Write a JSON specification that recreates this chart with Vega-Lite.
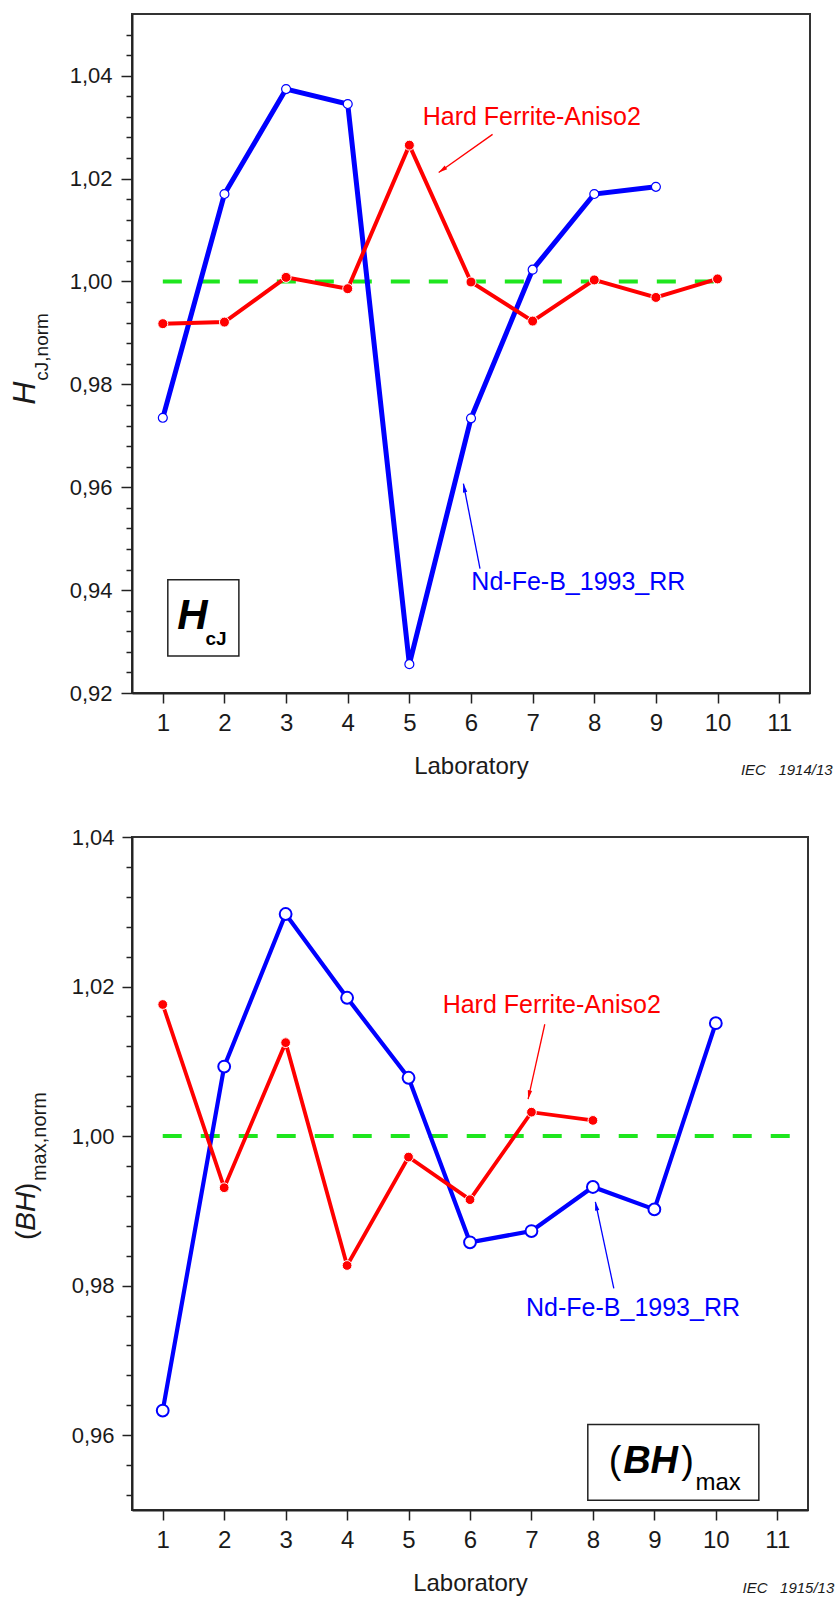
{
  "$schema": "https://vega.github.io/schema/vega-lite/v6.json",
  "padding": {"left": 8, "top": 13, "right": 0, "bottom": 0},
  "spacing": 45,
  "config": {
    "font": "Liberation Sans",
    "view": {"stroke": "#333333", "strokeWidth": 2},
    "axis": {
      "domainColor": "#222222", "domainWidth": 2, "tickColor": "#222222", "tickWidth": 1.5,
      "labelFont": "Liberation Sans", "labelFontSize": 22, "labelColor": "#1a1a1a",
      "titleFont": "Liberation Sans", "titleFontSize": 24, "titleFontWeight": "normal", "titleColor": "#1a1a1a",
      "grid": false, "labelFlush": false
    }
  },
  "datasets": {
    "hcj": [
      {"series": "Nd-Fe-B_1993_RR", "lab": 1, "value": 0.9735},
      {"series": "Nd-Fe-B_1993_RR", "lab": 2, "value": 1.017},
      {"series": "Nd-Fe-B_1993_RR", "lab": 3, "value": 1.0374},
      {"series": "Nd-Fe-B_1993_RR", "lab": 4, "value": 1.0345},
      {"series": "Nd-Fe-B_1993_RR", "lab": 5, "value": 0.9256},
      {"series": "Nd-Fe-B_1993_RR", "lab": 6, "value": 0.9734},
      {"series": "Nd-Fe-B_1993_RR", "lab": 7, "value": 1.0023},
      {"series": "Nd-Fe-B_1993_RR", "lab": 8, "value": 1.017},
      {"series": "Nd-Fe-B_1993_RR", "lab": 9, "value": 1.0184},
      {"series": "Hard Ferrite-Aniso2", "lab": 1, "value": 0.9918},
      {"series": "Hard Ferrite-Aniso2", "lab": 2, "value": 0.9921},
      {"series": "Hard Ferrite-Aniso2", "lab": 3, "value": 1.0008},
      {"series": "Hard Ferrite-Aniso2", "lab": 4, "value": 0.9986},
      {"series": "Hard Ferrite-Aniso2", "lab": 5, "value": 1.0265},
      {"series": "Hard Ferrite-Aniso2", "lab": 6, "value": 0.9999},
      {"series": "Hard Ferrite-Aniso2", "lab": 7, "value": 0.9923},
      {"series": "Hard Ferrite-Aniso2", "lab": 8, "value": 1.0003},
      {"series": "Hard Ferrite-Aniso2", "lab": 9, "value": 0.9969},
      {"series": "Hard Ferrite-Aniso2", "lab": 10, "value": 1.0005}
    ],
    "bh": [
      {"series": "Nd-Fe-B_1993_RR", "lab": 1, "value": 0.9633},
      {"series": "Nd-Fe-B_1993_RR", "lab": 2, "value": 1.0093},
      {"series": "Nd-Fe-B_1993_RR", "lab": 3, "value": 1.0297},
      {"series": "Nd-Fe-B_1993_RR", "lab": 4, "value": 1.0185},
      {"series": "Nd-Fe-B_1993_RR", "lab": 5, "value": 1.0078},
      {"series": "Nd-Fe-B_1993_RR", "lab": 6, "value": 0.9858},
      {"series": "Nd-Fe-B_1993_RR", "lab": 7, "value": 0.9873},
      {"series": "Nd-Fe-B_1993_RR", "lab": 8, "value": 0.9932},
      {"series": "Nd-Fe-B_1993_RR", "lab": 9, "value": 0.9902},
      {"series": "Nd-Fe-B_1993_RR", "lab": 10, "value": 1.0151},
      {"series": "Hard Ferrite-Aniso2", "lab": 1, "value": 1.0176},
      {"series": "Hard Ferrite-Aniso2", "lab": 2, "value": 0.9931},
      {"series": "Hard Ferrite-Aniso2", "lab": 3, "value": 1.0125},
      {"series": "Hard Ferrite-Aniso2", "lab": 4, "value": 0.9827},
      {"series": "Hard Ferrite-Aniso2", "lab": 5, "value": 0.9972},
      {"series": "Hard Ferrite-Aniso2", "lab": 6, "value": 0.9915},
      {"series": "Hard Ferrite-Aniso2", "lab": 7, "value": 1.0032},
      {"series": "Hard Ferrite-Aniso2", "lab": 8, "value": 1.0021}
    ],
    "hcj_ref": [{"lab": 1, "lab2": 10, "value": 1}],
    "bh_ref": [{"lab": 1, "lab2": 11.5, "value": 1}],
    "hcj_arrows": [
      {"series": "Hard Ferrite-Aniso2", "lab": 6.35, "value": 1.0286, "lab2": 5.476, "value2": 1.0212},
      {"series": "Nd-Fe-B_1993_RR", "lab": 6.146, "value": 0.9442, "lab2": 5.877, "value2": 0.9607}
    ],
    "hcj_heads": [
      {"series": "Hard Ferrite-Aniso2", "lab": 5.476, "value": 1.0212},
      {"series": "Nd-Fe-B_1993_RR", "lab": 5.877, "value": 0.9607}
    ],
    "bh_arrows": [
      {"series": "Hard Ferrite-Aniso2", "lab": 7.217, "value": 1.01496, "lab2": 6.945, "value2": 1.00494},
      {"series": "Nd-Fe-B_1993_RR", "lab": 8.34, "value": 0.97965, "lab2": 8.04, "value2": 0.99122}
    ],
    "bh_heads": [
      {"series": "Hard Ferrite-Aniso2", "lab": 6.945, "value": 1.00494},
      {"series": "Nd-Fe-B_1993_RR", "lab": 8.04, "value": 0.99122}
    ],
    "hcj_labels": [
      {"series": "Hard Ferrite-Aniso2", "lab": 5.216, "value": 1.0319},
      {"series": "Nd-Fe-B_1993_RR", "lab": 6.006, "value": 0.9416}
    ],
    "bh_labels": [
      {"series": "Hard Ferrite-Aniso2", "lab": 5.555, "value": 1.0175},
      {"series": "Nd-Fe-B_1993_RR", "lab": 6.912, "value": 0.97698}
    ],
    "hcj_box": [{"lab": 1.081, "lab2": 2.234, "value": 0.94203, "value2": 0.92717}],
    "hcj_box_main": [{"lab": 1.234, "value": 0.93248, "label": "H"}],
    "hcj_box_sub": [{"lab": 1.693, "value": 0.92937, "label": "cJ"}],
    "hcj_title_main": [{"lab": -1.0666, "value": 0.97605, "label": "H"}],
    "hcj_title_sub": [{"lab": -0.855, "value": 0.98072, "label": "cJ,norm"}],
    "hcj_iec": [{"lab": 11.867, "value": 0.90399, "label": "IEC\u00a0\u00a0\u00a01914/13"}],
    "bh_box": [{"lab": 7.917, "lab2": 10.7, "value": 0.96143, "value2": 0.95132}],
    "bh_box_paren": [{"lab": 8.259, "value": 0.95494, "label": "("}, {"lab": 9.436, "value": 0.95494, "label": ")"}],
    "bh_box_main": [{"lab": 8.492, "value": 0.95494, "label": "BH"}],
    "bh_box_sub": [{"lab": 9.669, "value": 0.95271, "label": "max"}],
    "bh_title_paren": [{"lab": -1.0847, "value": 0.98611, "label": "("}, {"lab": -1.0847, "value": 0.99254, "label": ")"}],
    "bh_title_main": [{"lab": -1.0847, "value": 0.98735, "label": "BH"}],
    "bh_title_sub": [{"lab": -0.9055, "value": 0.99399, "label": "max,norm"}],
    "bh_iec": [{"lab": 11.928, "value": 0.9389, "label": "IEC\u00a0\u00a0\u00a01915/13"}]
  },
  "vconcat": [
    {
      "width": 678,
      "height": 679,
      "encoding": {
        "x": {"field": "lab", "type": "quantitative", "scale": {"domain": [0.5, 11.5], "nice": false, "zero": false},
              "axis": {"values": [1, 2, 3, 4, 5, 6, 7, 8, 9, 10, 11], "format": "d", "title": "Laboratory", "tickSize": 10, "labelPadding": 8, "labelFontSize": 24, "titlePadding": 19}},
        "y": {"field": "value", "type": "quantitative", "scale": {"domain": [0.92, 1.052], "nice": false, "zero": false}, "axis": null}
      },
      "layer": [
        {
          "data": {"name": "hcj_ref"},
          "mark": {"type": "rule", "color": "#1ee61e", "strokeWidth": 4, "strokeDash": [19, 19]},
          "encoding": {
            "x2": {"field": "lab2"},
            "y": {"field": "value", "type": "quantitative", "scale": {"domain": [0.92, 1.052], "nice": false, "zero": false},
                  "axis": {"orient": "left", "values": [0.924, 0.928, 0.932, 0.936, 0.944, 0.948, 0.952, 0.956, 0.964, 0.968, 0.972, 0.976, 0.984, 0.988, 0.992, 0.996, 1.004, 1.008, 1.012, 1.016, 1.024, 1.028, 1.032, 1.036, 1.044, 1.048], "labels": false, "domain": false, "tickSize": 6, "title": null}}
          }
        },
        {
          "data": {"name": "hcj"},
          "transform": [{"filter": "datum.series === 'Nd-Fe-B_1993_RR'"}],
          "mark": {"type": "line", "color": "#0000ff", "strokeWidth": 5},
          "encoding": {
            "y": {"field": "value", "type": "quantitative", "scale": {"domain": [0.92, 1.052], "nice": false, "zero": false},
                  "axis": {"orient": "left", "values": [0.92, 0.94, 0.96, 0.98, 1.0, 1.02, 1.04], "labelExpr": "replace(format(datum.value, '.2f'), '.', ',')", "tickSize": 11, "labelPadding": 9, "title": null}}
          }
        },
        {
          "data": {"name": "hcj"},
          "transform": [{"filter": "datum.series === 'Hard Ferrite-Aniso2'"}],
          "mark": {"type": "line", "color": "#ff0000", "strokeWidth": 4},
          "encoding": {}
        },
        {
          "data": {"name": "hcj"},
          "transform": [{"filter": "datum.series === 'Nd-Fe-B_1993_RR'"}],
          "mark": {"type": "point", "shape": "circle", "filled": true, "fill": "#ffffff", "stroke": "#0000ff", "strokeWidth": 1.2, "size": 80, "opacity": 1},
          "encoding": {}
        },
        {
          "data": {"name": "hcj"},
          "transform": [{"filter": "datum.series === 'Hard Ferrite-Aniso2'"}],
          "mark": {"type": "point", "shape": "circle", "filled": true, "fill": "#ff0000", "stroke": "#ffffff", "strokeWidth": 1, "size": 100, "opacity": 1},
          "encoding": {}
        },
        {
          "data": {"name": "hcj_arrows"},
          "mark": {"type": "rule", "strokeWidth": 1.3},
          "encoding": {
            "x2": {"field": "lab2"},
            "y2": {"field": "value2"},
            "color": {"field": "series", "type": "nominal", "scale": {"domain": ["Hard Ferrite-Aniso2", "Nd-Fe-B_1993_RR"], "range": ["#ff0000", "#0000ff"]}, "legend": null}
          }
        },
        {
          "data": {"name": "hcj_heads"},
          "transform": [{"filter": "datum.series === 'Hard Ferrite-Aniso2'"}],
          "mark": {"type": "point", "shape": "M0,0L-0.55,2.2L0.55,2.2Z", "filled": true, "color": "#ff0000", "size": 64, "angle": 235, "opacity": 1},
          "encoding": {}
        },
        {
          "data": {"name": "hcj_heads"},
          "transform": [{"filter": "datum.series === 'Nd-Fe-B_1993_RR'"}],
          "mark": {"type": "point", "shape": "M0,0L-0.55,2.2L0.55,2.2Z", "filled": true, "color": "#0000ff", "size": 64, "angle": 349, "opacity": 1},
          "encoding": {}
        },
        {
          "data": {"name": "hcj_labels"},
          "mark": {"type": "text", "fontSize": 25, "align": "left", "baseline": "middle", "font": "Liberation Sans"},
          "encoding": {
            "text": {"field": "series"},
            "color": {"field": "series", "type": "nominal", "scale": {"domain": ["Hard Ferrite-Aniso2", "Nd-Fe-B_1993_RR"], "range": ["#ff0000", "#0000ff"]}, "legend": null}
          }
        },
        {
          "data": {"name": "hcj_box"},
          "mark": {"type": "rect", "fill": "#ffffff", "stroke": "#222222", "strokeWidth": 1.5},
          "encoding": {"x2": {"field": "lab2"}, "y2": {"field": "value2"}}
        },
        {
          "data": {"name": "hcj_box_main"},
          "mark": {"type": "text", "fontSize": 42, "fontWeight": "bold", "fontStyle": "italic", "align": "left", "baseline": "alphabetic", "color": "#000000"},
          "encoding": {"text": {"field": "label"}}
        },
        {
          "data": {"name": "hcj_box_sub"},
          "mark": {"type": "text", "fontSize": 19, "fontWeight": "bold", "align": "left", "baseline": "alphabetic", "color": "#000000"},
          "encoding": {"text": {"field": "label"}}
        },
        {
          "data": {"name": "hcj_title_main"},
          "mark": {"type": "text", "fontSize": 32, "fontStyle": "italic", "angle": 270, "align": "left", "baseline": "alphabetic", "color": "#1a1a1a"},
          "encoding": {"text": {"field": "label"}}
        },
        {
          "data": {"name": "hcj_title_sub"},
          "mark": {"type": "text", "fontSize": 19, "angle": 270, "align": "left", "baseline": "alphabetic", "color": "#1a1a1a"},
          "encoding": {"text": {"field": "label"}}
        },
        {
          "data": {"name": "hcj_iec"},
          "mark": {"type": "text", "fontSize": 15, "fontStyle": "italic", "align": "right", "baseline": "alphabetic", "color": "#1a1a1a"},
          "encoding": {"text": {"field": "label"}}
        }
      ],
      "resolve": {"axis": {"y": "independent"}}
    },
    {
      "width": 676,
      "height": 673,
      "encoding": {
        "x": {"field": "lab", "type": "quantitative", "scale": {"domain": [0.5, 11.5], "nice": false, "zero": false},
              "axis": {"values": [1, 2, 3, 4, 5, 6, 7, 8, 9, 10, 11], "format": "d", "title": "Laboratory", "tickSize": 10, "labelPadding": 8, "labelFontSize": 24, "titlePadding": 19}},
        "y": {"field": "value", "type": "quantitative", "scale": {"domain": [0.95, 1.04], "nice": false, "zero": false}, "axis": null}
      },
      "layer": [
        {
          "data": {"name": "bh_ref"},
          "mark": {"type": "rule", "color": "#1ee61e", "strokeWidth": 4, "strokeDash": [19, 19]},
          "encoding": {
            "x2": {"field": "lab2"},
            "y": {"field": "value", "type": "quantitative", "scale": {"domain": [0.95, 1.04], "nice": false, "zero": false},
                  "axis": {"orient": "left", "values": [0.952, 0.956, 0.964, 0.968, 0.972, 0.976, 0.984, 0.988, 0.992, 0.996, 1.004, 1.008, 1.012, 1.016, 1.024, 1.028, 1.032, 1.036], "labels": false, "domain": false, "tickSize": 6, "title": null}}
          }
        },
        {
          "data": {"name": "bh"},
          "transform": [{"filter": "datum.series === 'Nd-Fe-B_1993_RR'"}],
          "mark": {"type": "line", "color": "#0000ff", "strokeWidth": 4.2},
          "encoding": {
            "y": {"field": "value", "type": "quantitative", "scale": {"domain": [0.95, 1.04], "nice": false, "zero": false},
                  "axis": {"orient": "left", "values": [0.96, 0.98, 1.0, 1.02, 1.04], "labelExpr": "replace(format(datum.value, '.2f'), '.', ',')", "tickSize": 10, "labelPadding": 8, "title": null}}
          }
        },
        {
          "data": {"name": "bh"},
          "transform": [{"filter": "datum.series === 'Hard Ferrite-Aniso2'"}],
          "mark": {"type": "line", "color": "#ff0000", "strokeWidth": 3.8},
          "encoding": {}
        },
        {
          "data": {"name": "bh"},
          "transform": [{"filter": "datum.series === 'Nd-Fe-B_1993_RR'"}],
          "mark": {"type": "point", "shape": "circle", "filled": true, "fill": "#ffffff", "stroke": "#0000ff", "strokeWidth": 2, "size": 140, "opacity": 1},
          "encoding": {}
        },
        {
          "data": {"name": "bh"},
          "transform": [{"filter": "datum.series === 'Hard Ferrite-Aniso2'"}],
          "mark": {"type": "point", "shape": "circle", "filled": true, "fill": "#ff0000", "stroke": "#ffffff", "strokeWidth": 1, "size": 95, "opacity": 1},
          "encoding": {}
        },
        {
          "data": {"name": "bh_arrows"},
          "mark": {"type": "rule", "strokeWidth": 1.3},
          "encoding": {
            "x2": {"field": "lab2"},
            "y2": {"field": "value2"},
            "color": {"field": "series", "type": "nominal", "scale": {"domain": ["Hard Ferrite-Aniso2", "Nd-Fe-B_1993_RR"], "range": ["#ff0000", "#0000ff"]}, "legend": null}
          }
        },
        {
          "data": {"name": "bh_heads"},
          "transform": [{"filter": "datum.series === 'Hard Ferrite-Aniso2'"}],
          "mark": {"type": "point", "shape": "M0,0L-0.55,2.2L0.55,2.2Z", "filled": true, "color": "#ff0000", "size": 64, "angle": 192.6, "opacity": 1},
          "encoding": {}
        },
        {
          "data": {"name": "bh_heads"},
          "transform": [{"filter": "datum.series === 'Nd-Fe-B_1993_RR'"}],
          "mark": {"type": "point", "shape": "M0,0L-0.55,2.2L0.55,2.2Z", "filled": true, "color": "#0000ff", "size": 64, "angle": 348, "opacity": 1},
          "encoding": {}
        },
        {
          "data": {"name": "bh_labels"},
          "mark": {"type": "text", "fontSize": 25, "align": "left", "baseline": "middle", "font": "Liberation Sans"},
          "encoding": {
            "text": {"field": "series"},
            "color": {"field": "series", "type": "nominal", "scale": {"domain": ["Hard Ferrite-Aniso2", "Nd-Fe-B_1993_RR"], "range": ["#ff0000", "#0000ff"]}, "legend": null}
          }
        },
        {
          "data": {"name": "bh_box"},
          "mark": {"type": "rect", "fill": "#ffffff", "stroke": "#222222", "strokeWidth": 1.5},
          "encoding": {"x2": {"field": "lab2"}, "y2": {"field": "value2"}}
        },
        {
          "data": {"name": "bh_box_paren"},
          "mark": {"type": "text", "fontSize": 38, "align": "left", "baseline": "alphabetic", "color": "#000000"},
          "encoding": {"text": {"field": "label"}}
        },
        {
          "data": {"name": "bh_box_main"},
          "mark": {"type": "text", "fontSize": 38, "fontWeight": "bold", "fontStyle": "italic", "align": "left", "baseline": "alphabetic", "color": "#000000"},
          "encoding": {"text": {"field": "label"}}
        },
        {
          "data": {"name": "bh_box_sub"},
          "mark": {"type": "text", "fontSize": 24, "align": "left", "baseline": "alphabetic", "color": "#000000"},
          "encoding": {"text": {"field": "label"}}
        },
        {
          "data": {"name": "bh_title_paren"},
          "mark": {"type": "text", "fontSize": 28, "angle": 270, "align": "left", "baseline": "alphabetic", "color": "#1a1a1a"},
          "encoding": {"text": {"field": "label"}}
        },
        {
          "data": {"name": "bh_title_main"},
          "mark": {"type": "text", "fontSize": 28, "fontStyle": "italic", "angle": 270, "align": "left", "baseline": "alphabetic", "color": "#1a1a1a"},
          "encoding": {"text": {"field": "label"}}
        },
        {
          "data": {"name": "bh_title_sub"},
          "mark": {"type": "text", "fontSize": 20, "angle": 270, "align": "left", "baseline": "alphabetic", "color": "#1a1a1a"},
          "encoding": {"text": {"field": "label"}}
        },
        {
          "data": {"name": "bh_iec"},
          "mark": {"type": "text", "fontSize": 15, "fontStyle": "italic", "align": "right", "baseline": "alphabetic", "color": "#1a1a1a"},
          "encoding": {"text": {"field": "label"}}
        }
      ],
      "resolve": {"axis": {"y": "independent"}}
    }
  ]
}
